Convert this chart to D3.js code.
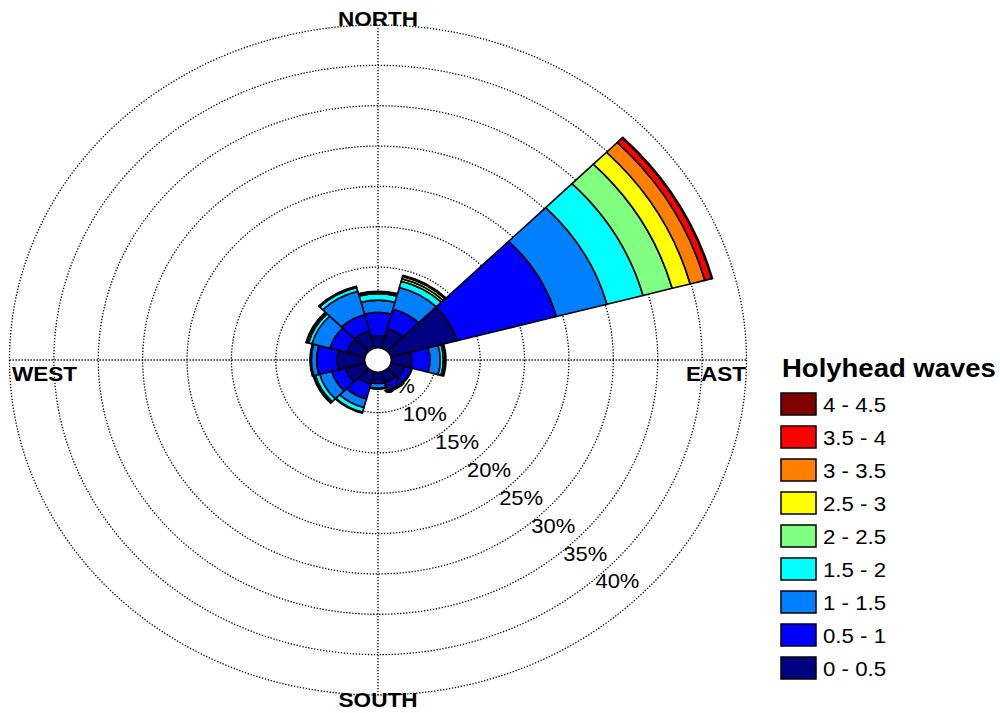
<!DOCTYPE html>
<html>
<head>
<meta charset="utf-8">
<script src="https://cdn.jsdelivr.net/npm/d3@7"></script>
<style>
  html, body { margin: 0; padding: 0; background: #fff; }
  svg { display: block; font-family: "Liberation Sans", Arial, sans-serif; }
</style>
</head>
<body>
<svg id="chart" width="1000" height="713"></svg>
<script>
// Direction sectors (degrees clockwise from north), 30° wide
const directions = [0, 30, 60, 90, 120, 150, 180, 210, 240, 270, 300, 330];

// Wave height classes (m) and their colours
const binLabels = ["0 - 0.5", "0.5 - 1", "1 - 1.5", "1.5 - 2", "2 - 2.5", "2.5 - 3", "3 - 3.5", "3.5 - 4", "4 - 4.5"];
const binColors = ["#000080", "#0000ff", "#0080ff", "#00ffff", "#80ff80", "#ffff00", "#ff8000", "#ff0000", "#800000"];

// Frequency (%) of each height class per direction
const freq00_05 = [1.5, 2.5, 7.7, 2.3, 1.6, 1.4, 1.0, 1.6, 2.3, 3.1, 2.1, 2.2];
const freq05_10 = [2.9, 2.5, 11.6, 2.05, 0.8, 1.0, 0.4, 1.9, 1.6, 2.3, 2.0, 2.1];
const freq10_15 = [1.5, 2.8, 5.9, 1.15, 0.1, 0.2, 0.6, 1.1, 1.4, 0.6, 2.1, 3.0];
const freq15_20 = [0.8, 0.8, 4.2, 0.35, 0, 0, 0.1, 0.6, 0.5, 0.1, 0.4, 0.5];
const freq20_25 = [0.2, 0.3, 3.4, 0.2, 0, 0, 0, 0.1, 0.2, 0.05, 0.2, 0.1];
const freq25_30 = [0.1, 0.3, 2.1, 0.1, 0, 0, 0, 0, 0.05, 0, 0.1, 0.05];
const freq30_35 = [0, 0.1, 1.7, 0, 0, 0, 0, 0, 0, 0, 0, 0];
const freq35_40 = [0, 0.05, 0.8, 0, 0, 0, 0, 0, 0, 0, 0, 0];
const freq40_45 = [0, 0, 0.1, 0, 0, 0, 0, 0, 0, 0, 0, 0];
const freqByBin = [freq00_05, freq05_10, freq10_15, freq15_20, freq20_25, freq25_30, freq30_35, freq35_40, freq40_45];

// Radial grid rings (%)
const ringTicks = [5, 10, 15, 20, 25, 30, 35, 40];
const compassLabels = ["NORTH", "EAST", "SOUTH", "WEST"];

const svg = d3.select("#chart");
const cx = 378, cy = 360, sx = 1.1;      // rose centre, horizontal stretch
const r0 = 12.2, R = 335;                 // inner hole and outer ring radius

const r = d3.scaleLinear().domain([0, 40]).range([r0, R]);
const toRad = d => d * Math.PI / 180;

const rose = svg.append("g").attr("transform", `translate(${cx},${cy}) scale(${sx},1)`);

// dotted rings
rose.append("g").selectAll("circle")
  .data(ringTicks)
  .join("circle")
  .attr("r", d => r(d))
  .attr("fill", "none")
  .attr("stroke", "#000")
  .attr("stroke-width", 1.3)
  .attr("stroke-dasharray", "1.3,1.7")
  .attr("vector-effect", "non-scaling-stroke");

// compass axes
const axes = rose.append("g")
  .attr("stroke", "#000").attr("stroke-width", 1.3)
  .attr("stroke-dasharray", "1.3,1.7");
axes.append("line").attr("x1", 0).attr("x2", 0).attr("y1", -R).attr("y2", R)
  .attr("vector-effect", "non-scaling-stroke");
axes.append("line").attr("y1", 0).attr("y2", 0).attr("x1", -R).attr("x2", R)
  .attr("vector-effect", "non-scaling-stroke");

// ring labels along the south-east diagonal
const labAng = toRad(133.7);
svg.append("g").selectAll("text")
  .data(ringTicks)
  .join("text")
  .attr("transform", d => {
    const rr = r(d);
    const x = cx + sx * rr * Math.sin(labAng) - 5;
    const y = cy - rr * Math.cos(labAng) - 3;
    return `translate(${x},${y}) scale(${sx},1)`;
  })
  .attr("text-anchor", "end")
  .attr("font-size", 20)
  .attr("fill", "#000")
  .text(d => d + "%");

// white hole at the centre
rose.append("circle").attr("r", r0).attr("fill", "#fff");

// stacked sectors
const half = 15;
const arc = d3.arc();
const segments = [];
directions.forEach((dir, i) => {
  let acc = 0;
  freqByBin.forEach((vals, b) => {
    const v = vals[i];
    if (v > 0) {
      segments.push({ dir, b, inner: acc, outer: acc + v });
      acc += v;
    }
  });
});

rose.append("g").selectAll("path")
  .data(segments)
  .join("path")
  .attr("d", d => arc({
    innerRadius: r(d.inner),
    outerRadius: r(d.outer),
    startAngle: toRad(d.dir - half),
    endAngle: toRad(d.dir + half)
  }))
  .attr("fill", d => binColors[d.b])
  .attr("stroke", "#000")
  .attr("stroke-width", 1.6)
  .attr("stroke-linejoin", "round")
  .attr("vector-effect", "non-scaling-stroke");

// compass labels
const compassPos = [
  { x: cx, y: 26, anchor: "middle" },
  { x: 746, y: 381, anchor: "end" },
  { x: cx, y: 707, anchor: "middle" },
  { x: 12, y: 381, anchor: "start" }
];
svg.append("g").selectAll("text")
  .data(compassLabels)
  .join("text")
  .attr("transform", (d, i) => `translate(${compassPos[i].x},${compassPos[i].y}) scale(${sx},1)`)
  .attr("text-anchor", (d, i) => compassPos[i].anchor)
  .attr("font-size", 20.5)
  .attr("font-weight", "bold")
  .text(d => d);

// legend
const legend = svg.append("g");
legend.append("text")
  .attr("transform", `translate(782,377) scale(${sx},1)`)
  .attr("font-size", 25)
  .attr("font-weight", "bold")
  .text("Holyhead waves");

const order = d3.range(binLabels.length).reverse();
const ly = d3.scaleBand().domain(order).range([393, 393 + 33 * order.length]);
const items = legend.selectAll("g.item")
  .data(order)
  .join("g")
  .attr("class", "item")
  .attr("transform", d => `translate(781,${ly(d)})`);
items.append("rect")
  .attr("width", 35).attr("height", 22)
  .attr("fill", d => binColors[d])
  .attr("stroke", "#000").attr("stroke-width", 1.5);
items.append("text")
  .attr("transform", `translate(42,19) scale(1.06,1)`)
  .attr("font-size", 21)
  .text(d => binLabels[d]);
</script>
</body>
</html>
